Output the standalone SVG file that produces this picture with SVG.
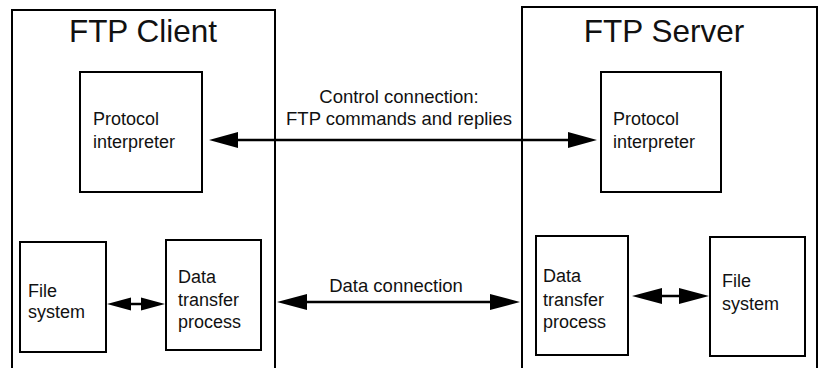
<svg xmlns="http://www.w3.org/2000/svg" width="819" height="368" viewBox="0 0 819 368">
<style>
.box{fill:#fff;stroke:#000;stroke-width:2}
.outer{fill:none;stroke:#000;stroke-width:2}
.t{font-family:"Liberation Sans",Arial,sans-serif;font-size:18px;fill:#111}
.lbl{font-size:18.5px}
.title{font-family:"Liberation Sans",Arial,sans-serif;font-size:31.5px;fill:#111}
.ln{stroke:#000;stroke-width:2.5;fill:none}
.hd{fill:#000}
</style>
<rect width="819" height="368" fill="#fff"/>
<g id="ftp-client">
<path class="outer" d="M12,372 V10 H275 V372"/>
<text class="title" x="143" y="42" text-anchor="middle">FTP Client</text>
</g>
<g id="ftp-server">
<path class="outer" d="M522,372 V7 H817 V372"/>
<text class="title" x="664" y="42" text-anchor="middle">FTP Server</text>
</g>
<g id="client-pi">
<rect class="box" x="80" y="72" width="122" height="120"/>
<text class="t" x="93" y="125">Protocol</text>
<text class="t" x="93" y="148">interpreter</text>
</g>
<g id="server-pi">
<rect class="box" x="601" y="72" width="120" height="120"/>
<text class="t" x="613" y="125">Protocol</text>
<text class="t" x="613" y="148">interpreter</text>
</g>
<g id="client-fs">
<rect class="box" x="20" y="242" width="86" height="110"/>
<text class="t" x="28" y="297">File</text>
<text class="t" x="28" y="318">system</text>
</g>
<g id="client-dtp">
<rect class="box" x="166" y="240" width="95" height="110"/>
<text class="t" x="178" y="283">Data</text>
<text class="t" x="178" y="306">transfer</text>
<text class="t" x="178" y="328">process</text>
</g>
<g id="server-dtp">
<rect class="box" x="536" y="236" width="92" height="119"/>
<text class="t" x="543" y="282">Data</text>
<text class="t" x="543" y="306">transfer</text>
<text class="t" x="543" y="328">process</text>
</g>
<g id="server-fs">
<rect class="box" x="710" y="237" width="95" height="119"/>
<text class="t" x="722" y="287">File</text>
<text class="t" x="722" y="310">system</text>
</g>
<g id="connectors">
<line class="ln" x1="230" y1="140" x2="580" y2="140"/>
<polygon class="hd" points="209,140 238,132 238,148"/>
<polygon class="hd" points="597,140 568,132 568,148"/>
<text class="t lbl" x="399" y="103" text-anchor="middle">Control connection:</text>
<text class="t lbl" x="399" y="125" text-anchor="middle">FTP commands and replies</text>
<line class="ln" x1="295" y1="302" x2="505" y2="302"/>
<polygon class="hd" points="277,302 307,294 307,310"/>
<polygon class="hd" points="520,302 490,294 490,310"/>
<text class="t lbl" x="396" y="292" text-anchor="middle">Data connection</text>
<line class="ln" x1="120" y1="304" x2="150" y2="304"/>
<polygon class="hd" points="107,304 131,297.5 131,310.5"/>
<polygon class="hd" points="165,304 141,297.5 141,310.5"/>
<line class="ln" x1="650" y1="296" x2="690" y2="296"/>
<polygon class="hd" points="632,296 662,288 662,304"/>
<polygon class="hd" points="709,296 679,288 679,304"/>
</g>
</svg>
